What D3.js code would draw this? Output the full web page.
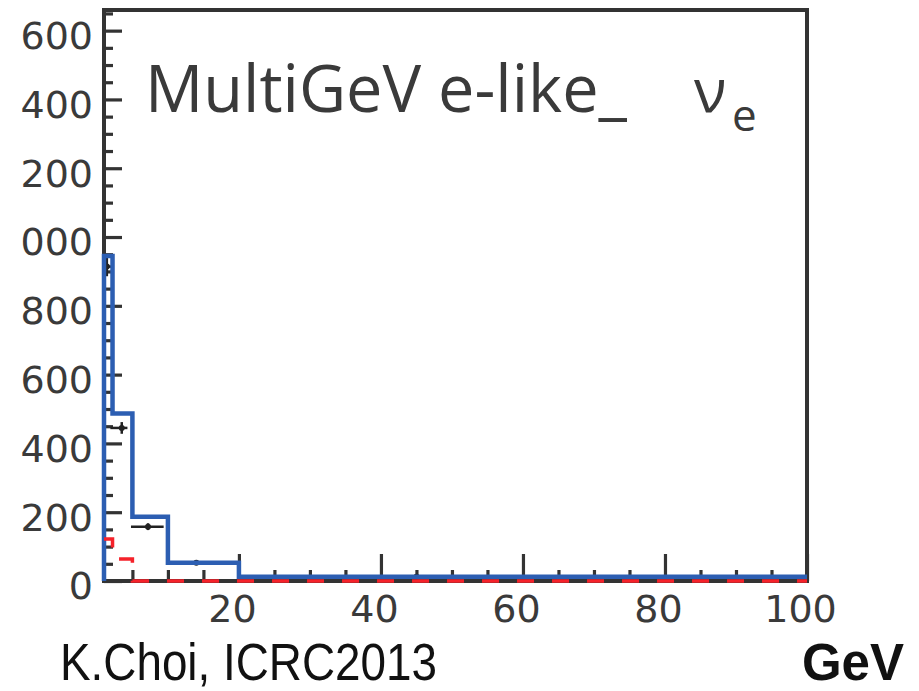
<!DOCTYPE html>
<html>
<head>
<meta charset="utf-8">
<script src="https://cdn.jsdelivr.net/npm/d3@7"></script>
<style>
  html, body { margin: 0; padding: 0; background: #fff; }
  svg { display: block; }
</style>
</head>
<body>
<div id="chart"></div>
<script>
// histogram bins (GeV) and contents
var binEdges = [1, 2.2, 5, 10, 20, 100];
var mcTotal  = [945, 487, 187, 53, 12];     // blue solid
var mcOther  = [122, 64, 0, 0, 0];          // red dashed
// data points
var dataX    = [1.4, 3.5, 7.2, 14, 45];
var dataY    = [914, 445, 158, 53, 12];
var dataErr  = [28, 17, 10, 5, 3];
var dataXlo  = [1, 1.9, 4.8, 10, 20];
var dataXhi  = [2.2, 4.3, 9.4, 20, 100];
// axis ticks
var yMajor = [0, 200, 400, 600, 800, 1000, 1200, 1400, 1600];
var yTickLabels = ['0', '200', '400', '600', '800', '000', '200', '400', '600'];
var xMajor = [20, 40, 60, 80, 100];
var xTickLabels = ['20', '40', '60', '80', '100'];

var W = 919, H = 691;
var ink = '#333';

var svg = d3.select('#chart').append('svg')
  .attr('width', W)
  .attr('height', H);

var x = d3.scaleLinear().domain([1, 100]).range([104, 807]);
var y = d3.scaleLinear().domain([0, 1660]).range([581, 10]);

// minor ticks
var yMinor = d3.range(0, 1660, 50).filter(function(d) { return d % 200 !== 0; });
var xMinor = d3.range(5, 100, 5).filter(function(d) { return d % 20 !== 0; });

var gy = svg.append('g').attr('transform', 'translate(' + x(1) + ',0)');
gy.call(d3.axisLeft(y).tickValues(yMinor).tickSize(-9).tickFormat(''));
gy.call(function(g) {
  g.append('g').call(d3.axisLeft(y).tickValues(yMajor).tickSize(-18).tickPadding(11)
    .tickFormat(function(d, i) { return yTickLabels[i]; }));
});

var gx = svg.append('g').attr('transform', 'translate(0,' + y(0) + ')');
gx.call(d3.axisBottom(x).tickValues(xMinor).tickSize(-11).tickFormat(''));
gx.call(function(g) {
  g.append('g').call(d3.axisBottom(x).tickValues(xMajor).tickSize(-27).tickPadding(14)
    .tickFormat(function(d, i) { return xTickLabels[i]; }));
});

svg.selectAll('.domain').remove();
svg.selectAll('.tick line').attr('stroke', ink).attr('stroke-width', 3.2);
svg.selectAll('.tick text')
  .attr('fill', '#3a3a3a')
  .style('font-family', '"DejaVu Sans", sans-serif')
  .style('font-size', '38px');
gy.selectAll('.tick text').attr('dy', '0.47em');
gx.selectAll('.tick text').attr('dx', -7);

// frame
svg.append('rect')
  .attr('x', x(1)).attr('y', y(1660))
  .attr('width', x(100) - x(1)).attr('height', y(0) - y(1660))
  .attr('fill', 'none').attr('stroke', ink).attr('stroke-width', 4);

// step path builder
function steps(vals, fromZero) {
  var pts = [];
  if (fromZero) pts.push([binEdges[0], 0]);
  vals.forEach(function(v, i) {
    pts.push([binEdges[i], v]);
    pts.push([binEdges[i + 1], v]);
  });
  return d3.line().x(function(d) { return x(d[0]); }).y(function(d) { return y(d[1]); })(pts);
}

// data points (drawn under the MC line)
var pts = svg.append('g');
dataX.forEach(function(d, i) {
  pts.append('line')
    .attr('x1', x(dataXlo[i])).attr('x2', x(dataXhi[i]))
    .attr('y1', y(dataY[i])).attr('y2', y(dataY[i]))
    .attr('stroke', '#222').attr('stroke-width', 2.5);
  pts.append('line')
    .attr('x1', x(d)).attr('x2', x(d))
    .attr('y1', y(dataY[i] - dataErr[i])).attr('y2', y(dataY[i] + dataErr[i]))
    .attr('stroke', '#222').attr('stroke-width', 2.5);
  pts.append('circle')
    .attr('cx', x(d)).attr('cy', y(dataY[i])).attr('r', 3)
    .attr('fill', '#222');
});

// blue MC
svg.append('path')
  .attr('d', steps(mcTotal, true))
  .attr('fill', 'none')
  .attr('stroke', '#2c5eb2')
  .attr('stroke-width', 4.5);

// red dashed
svg.append('path')
  .attr('d', steps(mcOther, false))
  .attr('fill', 'none')
  .attr('stroke', '#f5222a')
  .attr('stroke-width', 3.5)
  .attr('stroke-dasharray', '17,18');

// labels
svg.append('text')
  .attr('x', 145).attr('y', 112)
  .attr('textLength', 482).attr('lengthAdjust', 'spacingAndGlyphs')
  .attr('fill', '#3a3a3a')
  .style('font-family', '"Open Sans", sans-serif')
  .style('font-size', '66px')
  .text('MultiGeV e-like_');

svg.append('text')
  .attr('x', 694).attr('y', 112)
  .attr('fill', '#3a3a3a')
  .style('font-family', '"Open Sans", sans-serif')
  .style('font-size', '60px')
  .text('ν');

svg.append('text')
  .attr('x', 732).attr('y', 131)
  .attr('fill', '#3a3a3a')
  .style('font-family', '"Open Sans", sans-serif')
  .style('font-size', '44px')
  .text('e');

svg.append('text')
  .attr('x', 60).attr('y', 680)
  .attr('textLength', 377).attr('lengthAdjust', 'spacingAndGlyphs')
  .attr('fill', '#111')
  .style('font-family', '"Liberation Sans", Arial, sans-serif')
  .style('font-size', '51px')
  .text('K.Choi, ICRC2013');

svg.append('text')
  .attr('x', 904).attr('y', 680)
  .attr('text-anchor', 'end')
  .attr('fill', '#111')
  .style('font-family', '"Liberation Sans", Arial, sans-serif')
  .style('font-size', '51px')
  .style('font-weight', 'bold')
  .text('GeV');
</script>
</body>
</html>
